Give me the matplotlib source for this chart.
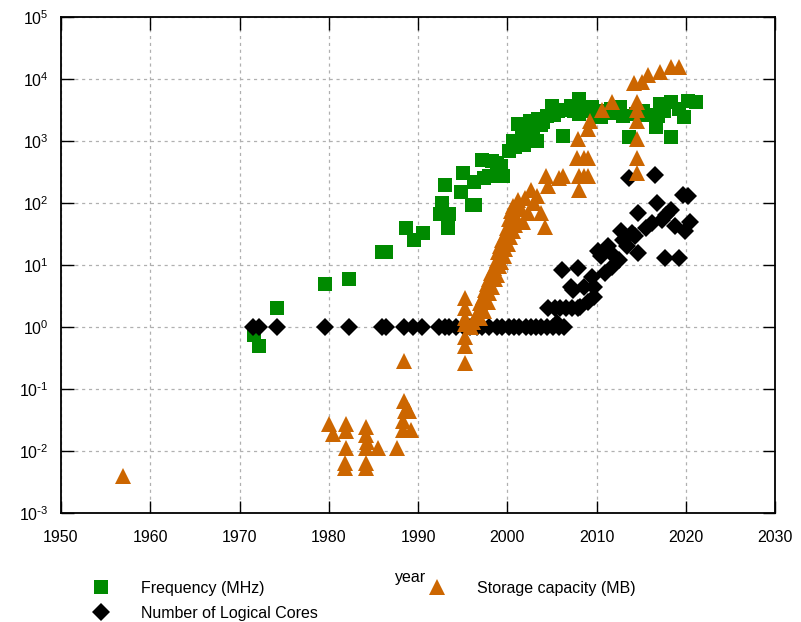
import matplotlib.pyplot as plt
from matplotlib.ticker import LogLocator, MultipleLocator, FuncFormatter
import math

plt.rcParams['font.family'] = ['Liberation Sans', 'DejaVu Sans']
plt.rcParams['mathtext.default'] = 'regular'
plt.rcParams['axes.unicode_minus'] = False

# Frequency (MHz)
freq_year = [1971.6, 1972.2, 1974.2, 1979.6, 1982.3, 1986.0, 1986.4, 1988.6, 1989.5, 1990.6,
             1992.5, 1992.7, 1993.0, 1993.5, 1993.4, 1994.8, 1995.0, 1996.1, 1996.4, 1996.3,
             1997.2, 1997.4, 1997.9, 1998.3, 1998.9, 1999.0, 1999.3, 1999.5, 2000.2, 2000.6,
             2000.9, 2001.2, 2001.6, 2001.9, 2002.2, 2002.5, 2002.9, 2003.3, 2003.4, 2003.8,
             2004.0, 2004.5, 2005.0, 2005.2, 2005.7, 2006.3, 2006.6, 2007.1, 2007.5, 2008.0,
             2008.0, 2008.5, 2008.9, 2009.5, 2009.9, 2010.5, 2011.0, 2011.6, 2012.0, 2012.6,
             2013.0, 2013.6, 2014.4, 2015.2, 2015.8, 2016.7, 2016.9, 2017.1, 2017.6, 2018.3,
             2018.4, 2019.2, 2019.8, 2020.3, 2021.1]
freq_val = [0.74, 0.5, 2.0, 5.0, 6.0, 16, 16, 40, 25, 33,
            66, 100, 195, 66, 40, 150, 300, 93, 93, 220,
            500, 250, 270, 470, 450, 300, 400, 270, 690, 1000,
            800, 1860, 1270, 870, 1500, 2100, 1270, 1000, 2300, 1800,
            2000, 2500, 3700, 2600, 3000, 1200, 3200, 3700, 3000, 4800,
            2700, 3500, 3100, 3600, 2750, 2400, 3000, 3300, 2800, 3500,
            2500, 1150, 2700, 3100, 2600, 1660, 2500, 4000, 3100, 4300,
            1150, 3300, 2400, 4500, 4300]

# Number of Logical Cores
cores_year = [1971.5, 1972.2, 1974.2, 1979.6, 1982.3, 1986.0, 1986.4, 1988.4, 1989.4, 1990.5,
              1992.4, 1993.0, 1993.5, 1994.3, 1995.1, 1995.8, 1996.6, 1997.2, 1998.0, 1998.8,
              1999.4, 2000.2, 2000.8, 2001.3, 2002.1, 2002.7, 2003.2, 2003.8, 2004.5, 2005.1,
              2005.8, 2006.4,
              2004.6, 2005.3, 2005.9, 2006.6, 2007.2, 2007.9, 2005.6, 2008.2, 2007.1, 2007.4,
              2008.6, 2009.0, 2009.7, 2009.7, 2009.5, 2006.1, 2007.9, 2010.2, 2010.5, 2010.9,
              2011.3, 2011.7, 2012.0, 2012.5, 2012.8, 2013.0, 2013.4, 2014.0, 2014.3, 2014.7,
              2014.7, 2013.6, 2015.5, 2016.2, 2016.6, 2016.8, 2017.3, 2017.7, 2017.8, 2018.4,
              2018.8, 2019.2, 2019.7, 2019.9, 2020.2, 2020.5]
cores_val = [1, 1, 1, 1, 1, 1, 1, 1, 1, 1,
             1, 1, 1, 1, 1, 1, 1, 1, 1, 1,
             1, 1, 1, 1, 1, 1, 1, 1, 1, 1,
             1, 1,
             2.0, 2.0, 2.0, 2.0, 2.0, 2.0, 1.15, 2.1, 4.5, 4.0,
             4.5, 2.5, 3.1, 4.5, 6.5, 8.3, 8.9, 17, 14, 7.3,
             20, 9.3, 14, 12, 36, 25, 20, 33, 29, 15.5,
             68, 250, 40, 47, 280, 100, 53, 13, 65, 78,
             42, 13, 135, 36, 130, 50]

# Storage capacity (MB)
stor_year = [1957.0,
             1980.0, 1980.5, 1981.9, 1981.9, 1981.9, 1981.8, 1981.8, 1984.2, 1984.2, 1984.3,
             1984.2, 1984.2, 1984.2, 1985.5, 1987.7, 1988.4, 1988.4, 1988.5, 1989.0, 1988.3,
             1988.3, 1989.2, 1988.8,
             1995.3, 1995.3, 1995.3, 1995.3, 1995.3, 1995.3, 1995.3,
             1995.9, 1996.2, 1996.5, 1996.8, 1997.0, 1997.0, 1997.3, 1997.4, 1997.5, 1997.7,
             1997.8, 1998.0, 1998.0, 1998.2, 1998.3, 1998.5, 1998.6, 1998.8, 1998.9, 1999.0,
             1999.1, 1999.2, 1999.3, 1999.4, 1999.6, 1999.7, 1999.8, 2000.0, 2000.1, 2000.2,
             2000.3, 2000.4, 2000.6, 2000.7, 2000.9, 2001.0, 2001.2, 2001.5, 2001.8, 2002.0,
             2002.3, 2002.7, 2003.0, 2003.3, 2003.8, 2004.2, 2004.6,
             2004.3, 2005.8, 2006.2, 2008.0, 2008.6, 2009.1, 2008.0, 2007.8, 2008.6, 2009.0,
             2007.9, 2009.0, 2009.3, 2010.6, 2011.7,
             2014.5, 2014.5, 2014.5, 2014.5, 2014.5, 2014.5, 2014.2, 2015.1, 2015.8, 2017.1,
             2018.3, 2019.2]
stor_val = [0.004,
            0.027, 0.019, 0.027, 0.021, 0.011, 0.0063, 0.0053, 0.024, 0.018, 0.014,
            0.011, 0.0063, 0.0053, 0.011, 0.011, 0.28, 0.063, 0.045, 0.045, 0.031,
            0.022, 0.022, 0.05,
            0.26, 0.5, 0.7, 1.1, 1.4, 2.0, 2.9,
            1.0, 1.2, 1.5, 1.9, 1.4, 2.4, 3.0, 1.8, 4.0, 5.0,
            2.5, 6.0, 3.5, 7.5, 4.5, 9.0, 6.0, 12, 7.0, 16,
            9.5, 20, 11, 25, 14, 30, 18, 40, 22, 55,
            28, 75, 35, 90, 45, 60, 110, 80, 50, 120,
            70, 160, 100, 130, 70, 41, 185,
            270, 250, 270, 270, 270, 270, 160, 530, 530, 530,
            1070, 1550, 2100, 3200, 4300,
            4300, 3200, 2100, 1070, 530, 310, 8500, 9000, 11500, 13000,
            15800, 15800]

green = '#008a00'
orange = '#cc6600'


def pow10_label(v, pos):
    e = int(round(math.log10(v)))
    if e < 0:
        return r'$10^{\text{-}%d}$' % (-e)
    return r'$10^{%d}$' % e


fig = plt.figure(figsize=(8.01, 6.22), dpi=100)
ax = fig.add_axes([61 / 801, 1 - 513 / 622, 714 / 801, 496 / 622])

h_freq, = ax.plot(freq_year, freq_val, 's', color=green, markersize=10,
                  markeredgewidth=0, linestyle='none', zorder=3, label='Frequency (MHz)')
h_cores, = ax.plot(cores_year, cores_val, 'D', color='black', markersize=9,
                   markeredgewidth=0, linestyle='none', zorder=4, label='Number of Logical Cores')
h_stor, = ax.plot(stor_year, stor_val, '^', color=orange, markersize=12,
                  markeredgewidth=0, linestyle='none', zorder=5, label='Storage capacity (MB)')

ax.set_yscale('log')
ax.set_xlim(1950, 2030)
ax.set_ylim(1e-3, 1e5)
ax.xaxis.set_major_locator(MultipleLocator(10))
ax.yaxis.set_major_locator(LogLocator(base=10, numticks=20))
ax.yaxis.set_minor_locator(LogLocator(base=10, subs=[], numticks=20))
ax.yaxis.set_major_formatter(FuncFormatter(pow10_label))

ax.grid(True, color='#b0b0b0', linestyle=(0, (2.5, 3)), linewidth=0.9)
ax.set_axisbelow(True)
for s in ax.spines.values():
    s.set_linewidth(1.3)
ax.tick_params(which='major', direction='in', length=9, width=1, labelsize=11.5,
               top=True, right=True, pad=9)
ax.tick_params(axis='x', pad=12)

ax.set_xlabel('year', fontsize=11.5, labelpad=17)
ax.xaxis.set_label_coords(0.49, -0.115)

fig.legend(handles=[h_freq, h_cores, h_stor], ncol=2, loc='upper left',
           bbox_to_anchor=(77 / 801, 1 - 581 / 622), frameon=False,
           fontsize=11.5, borderpad=0, borderaxespad=0, handlelength=3,
           handletextpad=1.0, columnspacing=5.95, labelspacing=0.6)

fig.savefig('out.png', dpi=100)
